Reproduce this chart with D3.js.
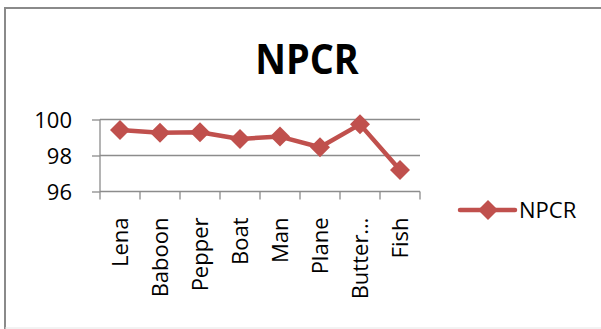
<!DOCTYPE html>
<html><head><meta charset="utf-8">
<script src="https://cdn.jsdelivr.net/npm/d3@7"></script>
<style>html,body{margin:0;padding:0;background:#fff;}svg{display:block;}</style>
</head><body>
<script>
const categories = ["Lena","Baboon","Pepper","Boat","Man","Plane","Butter\u2026","Fish"];
const npcrValues = [99.42, 99.27, 99.29, 98.92, 99.05, 98.46, 99.73, 97.19];
const yTicks = [96, 98, 100];
const seriesName = "NPCR";
const titleText = "NPCR";

const W = 601, H = 329;
const color = "#C0504D";
const font = "'Open Sans', 'Liberation Sans', Arial, sans-serif";
const svg = d3.select("body").append("svg").attr("width", W).attr("height", H);

// frame
svg.append("line").attr("x1",5).attr("x2",W).attr("y1",8).attr("y2",8).attr("stroke","#8a8a8a").attr("stroke-width",2);
svg.append("line").attr("x1",5).attr("x2",5).attr("y1",7).attr("y2",H).attr("stroke","#8a8a8a").attr("stroke-width",2);
svg.append("line").attr("x1",5).attr("x2",W).attr("y1",328).attr("y2",328).attr("stroke","#e6e6e6").attr("stroke-width",1);

svg.append("text").attr("text-anchor","middle")
  .attr("transform","translate(307,73.5) scale(0.9,1)")
  .attr("font-family",font).attr("font-weight","bold").attr("font-size",42).text(titleText);

const x = d3.scaleBand().domain(categories).range([100,420]);
const y = d3.scaleLinear().domain([96,100]).range([191.5,119.5]);

// gridlines
svg.append("g").selectAll("line").data(yTicks.filter(t=>t!==96)).join("line")
  .attr("x1",100).attr("x2",420).attr("y1",d=>y(d)).attr("y2",d=>y(d))
  .attr("stroke","#8c8c8c").attr("stroke-width",1.3);

// y axis
const ya = svg.append("g").attr("transform","translate(100,0)")
  .call(d3.axisLeft(y).tickValues(yTicks).tickFormat(d3.format("d")).tickSize(8).tickPadding(20));
ya.select(".domain").attr("stroke","#8c8c8c").attr("stroke-width",1.3).attr("d","M0,119.5V191.5");
ya.selectAll(".tick line").attr("stroke","#8c8c8c").attr("stroke-width",1.3);
ya.selectAll("text").attr("font-family",font).attr("font-size",22).attr("fill","#000").attr("dy","0.35em");

// x axis
const xa = svg.append("g").attr("transform","translate(0,191.5)")
  .call(d3.axisBottom(x).tickSize(0).tickPadding(0));
xa.select(".domain").attr("stroke","#8c8c8c").attr("stroke-width",1.3).attr("d","M100,0H420");
const bounds = [...categories.map(c=>x(c)), 420];
xa.append("g").selectAll("line").data(bounds).join("line")
  .attr("x1",d=>d).attr("x2",d=>d).attr("y1",0).attr("y2",8)
  .attr("stroke","#8c8c8c").attr("stroke-width",1.3);
xa.selectAll(".tick text")
  .attr("font-family",font).attr("font-size",22).attr("fill","#000")
  .attr("text-anchor","end").attr("transform","rotate(-90)")
  .attr("x",-26).attr("y",0).attr("dy","0.35em");

// line
const cx = c => x(c) + x.bandwidth()/2;
svg.append("path").datum(npcrValues)
  .attr("fill","none").attr("stroke",color).attr("stroke-width",4.5).attr("stroke-linejoin","round")
  .attr("d", d3.line().x((d,i)=>cx(categories[i])).y(d=>y(d)));

svg.append("g").selectAll("path").data(npcrValues).join("path")
  .attr("d",d3.symbol().type(d3.symbolSquare).size(200))
  .attr("transform",(d,i)=>`translate(${cx(categories[i])},${y(d)}) rotate(45)`)
  .attr("fill",color);

// legend
const lg = svg.append("g");
lg.append("line").attr("x1",460).attr("x2",515).attr("y1",210).attr("y2",210)
  .attr("stroke",color).attr("stroke-width",4.5).attr("stroke-linecap","round");
lg.append("path").attr("d",d3.symbol().type(d3.symbolSquare).size(200))
  .attr("transform","translate(488,210) rotate(45)").attr("fill",color);
lg.append("text").attr("x",519).attr("y",217.5).attr("font-family",font).attr("font-size",22).text(seriesName);
</script>
</body></html>
